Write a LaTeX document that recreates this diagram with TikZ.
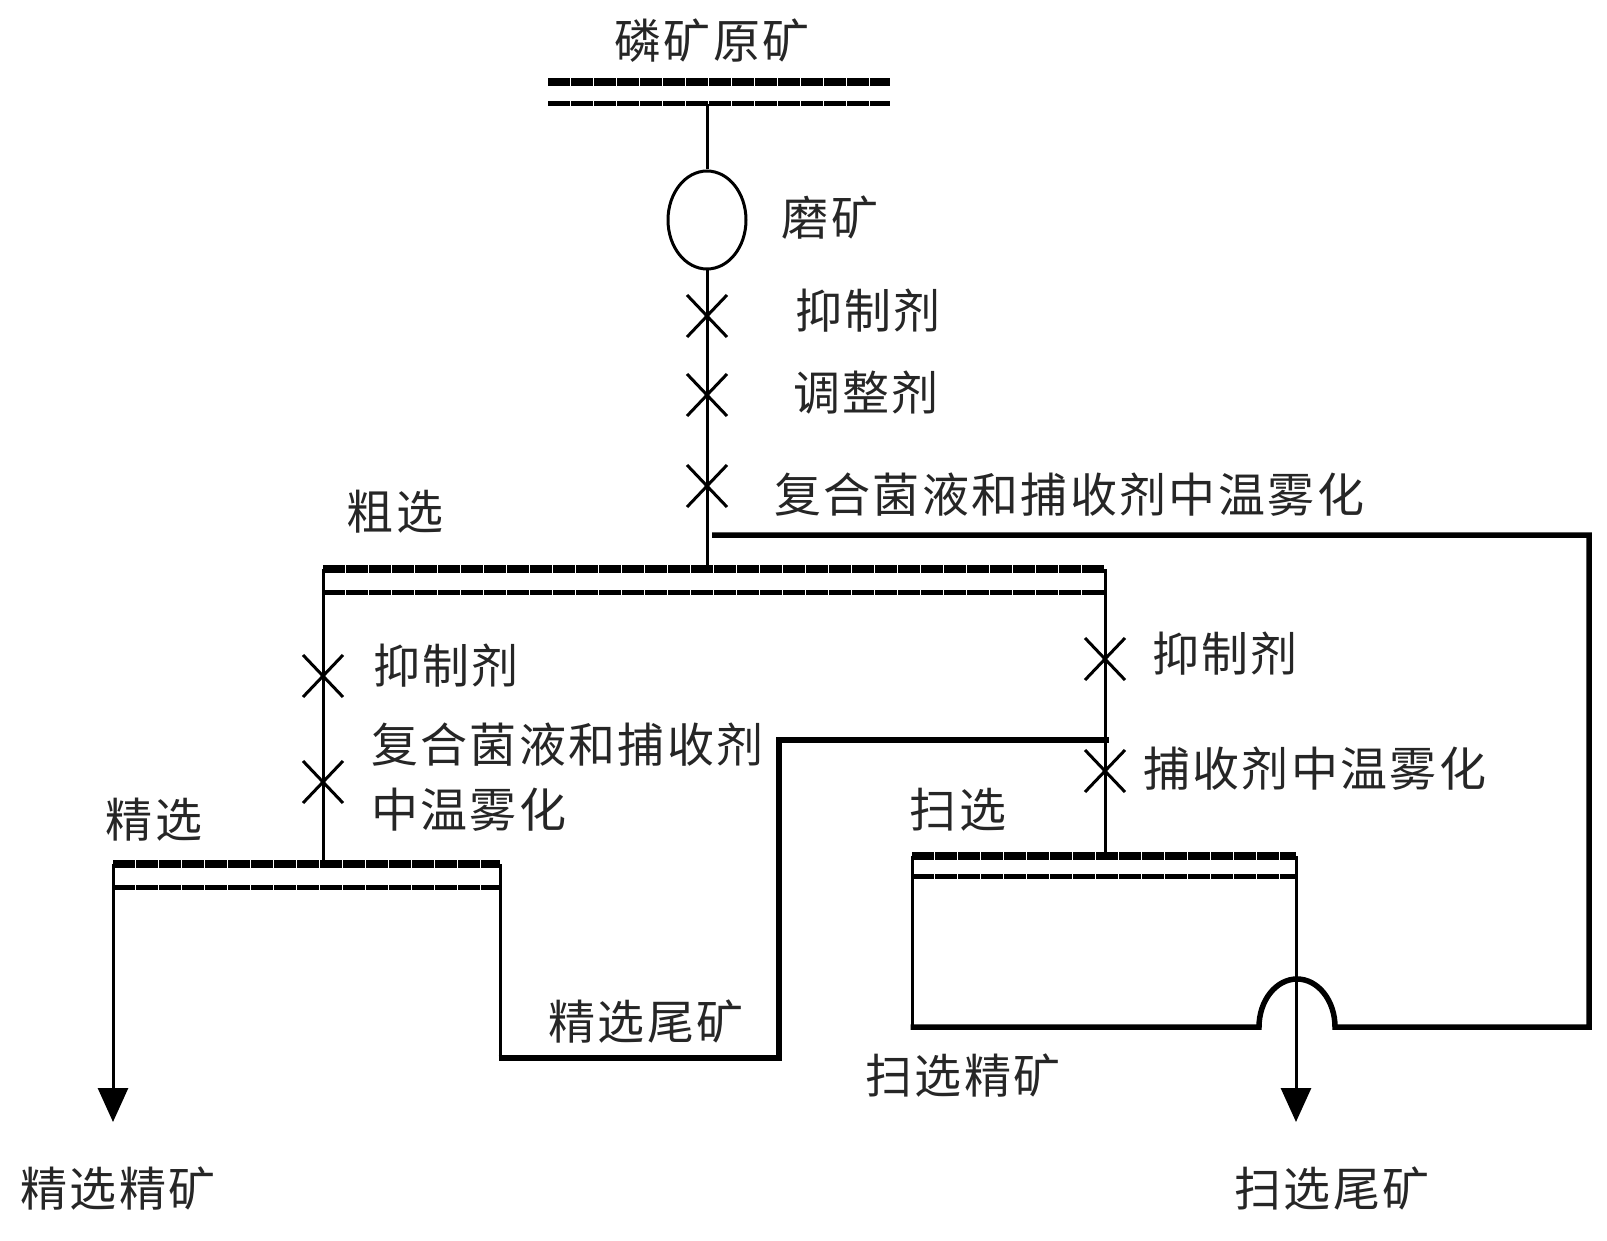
\documentclass[tikz,border=0pt]{standalone}
\usepackage{fontspec}
\setmainfont{Noto Sans CJK SC}[LetterSpace=5]
\usetikzlibrary{arrows.meta,shapes.geometric}
\begin{document}
\begin{tikzpicture}[x=1pt,y=-1pt,
  lbl/.style={font=\fontsize{47}{52}\selectfont, inner sep=0pt, text=black!85},
  flow/.style={line width=3pt},
  heavy/.style={line width=5.5pt},
  barA/.style={line width=8.5pt, dash pattern=on 22pt off 1pt},
  barB/.style={line width=5pt, dash pattern=on 22pt off 1pt},
  tip/.style={-{Triangle[length=34pt,width=30pt]}},
  xm/.pic={\draw[line width=3pt] (-20,-21)--(20,21) (-20,21)--(20,-21);}
]
\useasboundingbox (0,0) rectangle (1607,1241);
\fill[white] (0,0) rectangle (1607,1241);

% bars
\draw[barA] (548,82) -- (890,82);
\draw[barB] (548,104) -- (890,104);
\draw[barA] (323,569) -- (1105,569);
\draw[barB] (323,592) -- (1105,592);
\draw[barA] (113,864) -- (500,864);
\draw[barB] (113,887) -- (500,887);
\draw[barA] (912,856) -- (1296,856);
\draw[barB] (912,876) -- (1296,876);

% named points
\coordinate (feedtop) at (707,104);
\coordinate (roughin) at (707,569);
\coordinate (roughL) at (323,569);
\coordinate (roughR) at (1105,569);
\coordinate (cleanin) at (323,864);
\coordinate (scavin) at (1105,856);
\coordinate (cleanL) at (113,864);
\coordinate (cleanR) at (500,864);
\coordinate (cleanconc) at (113,1122);
\coordinate (ct1) at (500,1058);
\coordinate (ct2) at (779,1058);
\coordinate (ct3) at (779,740);
\coordinate (ct4) at (1109,740);
\coordinate (scL) at (912,856);
\coordinate (sc1) at (912,1027);
\coordinate (sc2) at (1259,1027);
\coordinate (sc3) at (1589,1027);
\coordinate (sc4) at (1589,535);
\coordinate (sc5) at (712,535);
\coordinate (scR) at (1296,856);
\coordinate (scavtail) at (1296,1122);

% mill
\node[draw, ellipse, line width=3pt, minimum width=78pt, minimum height=98pt, inner sep=0pt] (mill) at (707,220) {};

% connectors
\draw[flow] (feedtop) -- (mill.north);
\draw[flow] (mill.south) -- (roughin);
\draw[flow] (roughL) -- (cleanin);
\draw[flow] (roughR) -- (scavin);
\draw[flow,tip] (cleanL) -- (cleanconc);
\draw[flow] (cleanR) -- (ct1);
\draw[heavy] ([xshift=-1.5pt]ct1) -- (ct2) -- (ct3) -- (ct4);
\draw[flow] (scL) -- (sc1);
\draw[heavy] ([xshift=-1.5pt]sc1) -- (sc2) arc[start angle=180,end angle=360,x radius=38,y radius=48] -- (sc3) -- (sc4) -- (sc5);
\draw[flow,tip] (scR) -- (scavtail);

% cross marks
\pic at (707,316) {xm};
\pic at (707,395) {xm};
\pic at (707,486) {xm};
\pic at (323,676) {xm};
\pic at (323,782) {xm};
\pic at (1105,659) {xm};
\pic at (1105,771) {xm};

% labels
\node[lbl] (t1) at (712,41) {磷矿原矿};
\node[lbl] (t2) at (830,218) {磨矿};
\node[lbl] (t3) at (868,311) {抑制剂};
\node[lbl] (t4) at (866,393) {调整剂};
\node[lbl,anchor=west] (t5) at (774,495) {复合菌液和捕收剂中温雾化};
\node[lbl] (t6) at (395,512) {粗选};
\node[lbl] (t7) at (446,666) {抑制剂};
\node[lbl,anchor=west] (t8) at (371,745) {复合菌液和捕收剂};
\node[lbl,anchor=west] (t9) at (371,810) {中温雾化};
\node[lbl] (t10) at (154,820) {精选};
\node[lbl] (t11) at (1225,654) {抑制剂};
\node[lbl,anchor=west] (t12) at (1143,769) {捕收剂中温雾化};
\node[lbl] (t13) at (958,810) {扫选};
\node[lbl] (t14) at (646,1022) {精选尾矿};
\node[lbl] (t15) at (963,1076) {扫选精矿};
\node[lbl] (t16) at (118,1189) {精选精矿};
\node[lbl] (t17) at (1332,1189) {扫选尾矿};
\end{tikzpicture}
\end{document}
